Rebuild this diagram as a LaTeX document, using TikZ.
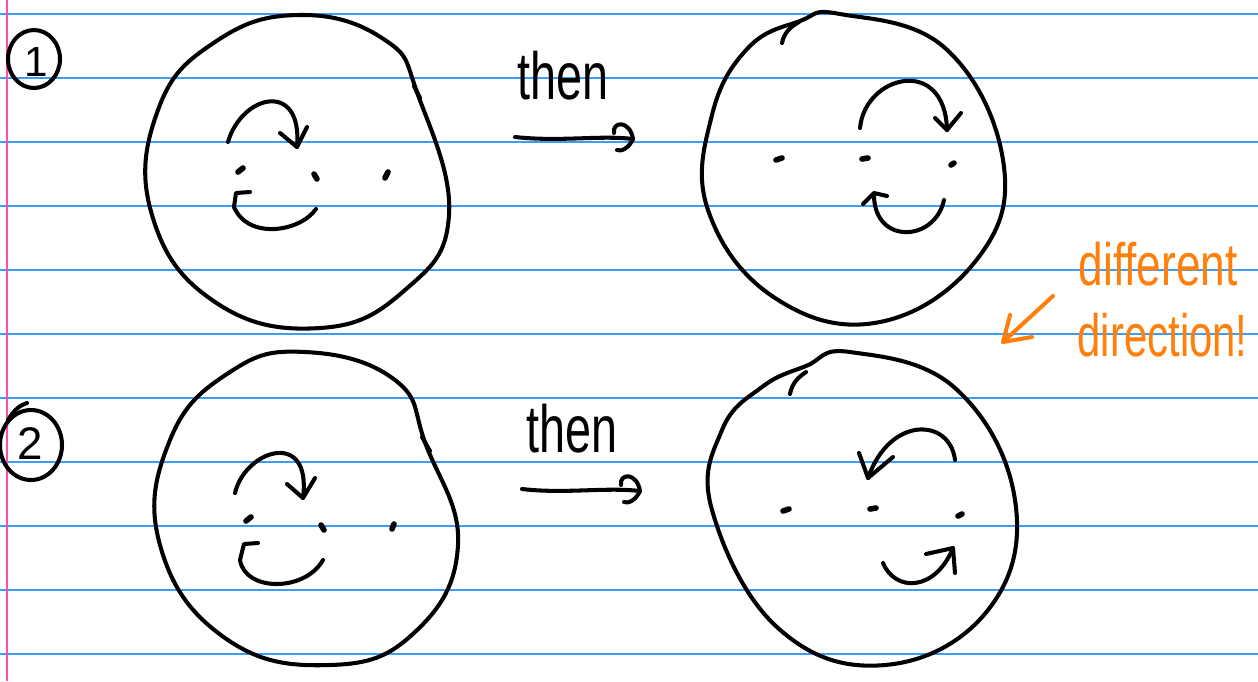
\documentclass[tikz,border=0pt]{standalone}
\usepackage{fontspec}
\usepackage{graphicx}
\setmainfont{Liberation Sans}
\definecolor{ruleblue}{HTML}{3D9DF5}
\definecolor{margpink}{HTML}{FF4FA8}
\definecolor{inkorange}{HTML}{FF7F0A}
\tikzset{
  ink/.style={line width=1.15pt, line cap=round, line join=round, black},
  dotmark/.style={line width=1.6pt, line cap=round, black},
  orangeink/.style={line width=1.15pt, line cap=round, line join=round, inkorange},
  hand/.style={inner sep=0pt, font=\fontsize{19}{19}\selectfont},
  orangehand/.style={inner sep=0pt, text=inkorange, font=\fontsize{17}{17}\selectfont},
}
\begin{document}
\begin{tikzpicture}[x=0.01cm,y=-0.01cm]
\useasboundingbox (0,0) rectangle (1258,681);
\fill[white] (0,0) rectangle (1258,681);
% ruled paper
\foreach \yy in {14,78,...,654} { \draw[ruleblue, line width=0.55pt] (0,\yy) -- (1258,\yy); }
\draw[margpink, line width=0.6pt] (7,0) -- (7,681);

% circled numbers
\node[hand, font=\fontsize{12}{12}\selectfont] (n1) at (36,62) {1};
\draw[ink] (34,59) ellipse [x radius=26, y radius=29];
\node[hand, font=\fontsize{13}{13}\selectfont] (n2) at (30,444) {2};
\draw[ink] (31,445) ellipse [x radius=31, y radius=35];
\draw[ink] (8,420) .. controls (14,410) and (20,405) .. (27,403);

% ---- big circles ----
\draw[ink] plot[smooth cycle, tension=0.75] coordinates {(300,15) (385,40) (418,95) (449,215) (405,290) (320,328) (215,302) (152,215) (158,110) (215,42)};
\draw[ink] (414,86) -- (420,98);

\draw[ink] plot[smooth cycle, tension=0.7] coordinates {(840,14) (945,48) (1003,160) (978,258) (880,322) (775,298) (708,210) (712,115) (748,48) (800,21)};
\draw[ink] (782,43) .. controls (784,33) and (790,27) .. (799,22);

\draw[ink] plot[smooth cycle, tension=0.75] coordinates {(305,352) (395,380) (426,445) (458,545) (415,632) (330,665) (225,638) (160,545) (170,440) (230,372)};
\draw[ink] (422,437) -- (430,451);

\draw[ink] plot[smooth cycle, tension=0.7] coordinates {(850,352) (955,388) (1015,500) (988,610) (885,665) (778,628) (712,510) (722,430) (762,387) (806,366)};
\draw[ink] (790,394) .. controls (792,384) and (797,378) .. (806,372);

% ---- panel 1 (top left) ----
\draw[ink] (228,142) .. controls (242,94) and (303,80) .. (297,147);
\draw[ink] (280,133) -- (297,147) -- (307,127);
\draw[ink] (316,209) .. controls (300,232) and (248,240) .. (234,207) -- (236,193) -- (250,192);
\draw[dotmark] (238,172) -- (243,168);
\draw[dotmark] (314,174) -- (317,179);
\draw[dotmark] (385,178) -- (388,172);

% ---- panel 2 (top right) ----
\draw[ink] (860,128) .. controls (865,75) and (945,55) .. (947,130);
\draw[ink] (935,118) -- (947,130) -- (961,113);
\draw[ink] (944,200) .. controls (935,242) and (875,245) .. (874,196);
\draw[ink] (863,204) -- (874,193) -- (887,196);
\draw[dotmark] (776,160) -- (782,158);
\draw[dotmark] (862,159) -- (868,158);
\draw[dotmark] (951,165) -- (954,163);

% ---- panel 3 (bottom left) ----
\draw[ink] (235,493) .. controls (245,450) and (312,428) .. (303,498);
\draw[ink] (287,484) -- (303,498) -- (315,478);
\draw[ink] (323,560) .. controls (305,592) and (245,592) .. (240,560) -- (244,544) -- (258,543);
\draw[dotmark] (246,521) -- (251,517);
\draw[dotmark] (321,525) -- (324,530);
\draw[dotmark] (392,529) -- (394,524);

% ---- panel 4 (bottom right) ----
\draw[ink] (955,460) .. controls (950,418) and (890,415) .. (868,478);
\draw[ink] (859,453) -- (868,478) -- (893,457);
\draw[ink] (883,563) .. controls (895,592) and (935,592) .. (953,548);
\draw[ink] (926,554) -- (953,548) -- (955,573);
\draw[dotmark] (783,511) -- (789,509);
\draw[dotmark] (870,509) -- (876,508);
\draw[dotmark] (958,516) -- (962,514);

% ---- "then" arrows ----
\node[hand, anchor=base west] (then1) at (517,99) {\scalebox{0.7}[1]{then}};
\coordinate (a1s) at (515,137);
\coordinate (a1e) at (633,139);
\draw[ink] (a1s) .. controls (560,142) and (600,135) .. (a1e);
\draw[ink] (a1e) .. controls (630,120) and (612,121) .. (614,133);
\draw[ink] (a1e) .. controls (629,148) and (621,152) .. (617,150);

\node[hand, anchor=base west] (then2) at (526,452) {\scalebox{0.7}[1]{then}};
\coordinate (a2s) at (522,489);
\coordinate (a2e) at (640,491);
\draw[ink] (a2s) .. controls (565,494) and (605,487) .. (a2e);
\draw[ink] (a2e) .. controls (637,472) and (619,473) .. (621,485);
\draw[ink] (a2e) .. controls (636,500) and (628,504) .. (624,502);

% ---- orange note ----
\node[orangehand, anchor=base west] (diff) at (1078,285) {\scalebox{0.74}[1]{different}};
\node[orangehand, anchor=base west] (dirn) at (1077,356) {\scalebox{0.7}[1]{direction!}};
\coordinate (ot) at (1003,342);
\draw[orangeink] (1053,296) -- (ot);
\draw[orangeink] (1010,315) -- (ot) -- (1032,337);
\end{tikzpicture}
\end{document}
